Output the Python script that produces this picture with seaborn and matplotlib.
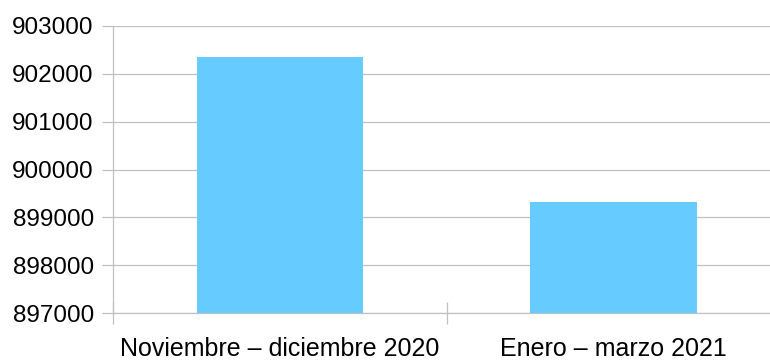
import matplotlib
matplotlib.use("Agg")
import matplotlib.pyplot as plt
import seaborn as sns
import pandas as pd

# Data
categories = ["Noviembre – diciembre 2020", "Enero – marzo 2021"]
values = [902350, 899330]
y_ticks = [897000, 898000, 899000, 900000, 901000, 902000, 903000]

sns.set_theme(style="white")
plt.rcParams["font.family"] = ["Liberation Sans", "DejaVu Sans"]

df = pd.DataFrame({"periodo": categories, "valor": values})

fig = plt.figure(figsize=(7.7, 3.61), dpi=100)
ax = fig.add_axes([113.3 / 770, 1 - 313.3 / 361, 666.7 / 770, 287.6 / 361])

sns.barplot(data=df, x="periodo", y="valor", color="#66CCFF", width=0.5,
            saturation=1, ax=ax, zorder=3, linewidth=0)

ax.set_ylim(y_ticks[0], y_ticks[-1])
ax.set_xlim(-0.5, 1.5)
ax.set_yticks(y_ticks)
ax.set_yticklabels([str(v) for v in y_ticks])
ax.grid(axis="y", color="#c0c0c0", linewidth=0.9, zorder=0)
ax.set_axisbelow(True)

# category boundary tick marks
ax.set_xticks([-0.5, 0.5, 1.5], minor=True)
ax.tick_params(axis="x", which="minor", direction="inout", length=16,
               width=0.9, color="#c0c0c0", bottom=True)
ax.tick_params(axis="x", which="major", length=0, pad=17, labelsize=18,
               labelcolor="black")
ax.tick_params(axis="y", which="major", direction="out", length=8,
               width=0.9, color="#c0c0c0", left=True, pad=6, labelsize=17.5,
               labelcolor="black")

for side in ["top", "right"]:
    ax.spines[side].set_visible(False)
ax.spines["left"].set_color("#c0c0c0")
ax.spines["left"].set_linewidth(0.9)
ax.spines["bottom"].set_color("#c0c0c0")
ax.spines["bottom"].set_linewidth(0.9)
ax.spines["left"].set_bounds(y_ticks[0], y_ticks[-1])

ax.set_xlabel("")
ax.set_ylabel("")

fig.savefig("out.png", dpi=100)
